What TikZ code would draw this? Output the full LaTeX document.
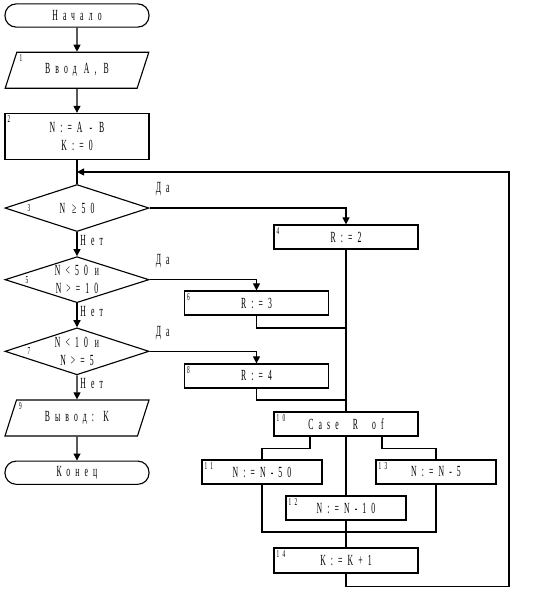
\documentclass[tikz,border=0pt]{standalone}
\usepackage{fontspec}
\setmainfont{Liberation Serif}[FakeStretch=0.5, LetterSpace=33]
\usetikzlibrary{shapes.geometric, arrows.meta, positioning, calc}

\begin{document}
\begin{tikzpicture}[
    x=0.025cm, y=-0.025cm,
    node distance=0.6cm,
    every node/.style={font=\fontsize{11}{12.5}\selectfont},
    term/.style={draw, thick, rounded corners=0.28cm, minimum width=3.6cm,
                 minimum height=0.58cm, inner sep=0pt},
    io/.style={draw, thick, trapezium, trapezium left angle=65, trapezium right angle=115,
               trapezium stretches=true, minimum width=3.6cm, minimum height=0.9cm, inner sep=0pt},
    proc/.style={draw, thick, minimum width=3.6cm, minimum height=0.6cm, inner sep=0pt, align=center},
    cond/.style={draw, thick, diamond, aspect=3, minimum width=3.6cm, minimum height=1.175cm,
                 inner sep=0pt, align=center},
    num/.style={font=\fontsize{7.5}{8}\selectfont, inner sep=2pt, anchor=north west},
    lab/.style={inner sep=2pt},
    yes/.style={lab, pos=0, anchor=south west, xshift=2pt, yshift=6pt},
    no/.style={lab, pos=0, anchor=north west},
    arrow/.style={-{Triangle[width=5pt,length=5pt]}, thick},
    conn/.style={thick}
]
\useasboundingbox (0,0) rectangle (539,601);

% main column
\node[term] (start) at (77,15.5) {Начало};
\node[io, below=of start] (in1) {Ввод A, B};
\node[proc, below=of in1, minimum height=1.15cm] (b2) {N:=A - B\\K:=0};
\node[cond, below=of b2] (d3) {N ≥50};
\node[cond, below=of d3, minimum height=1.15cm] (d5) {N<50 и\\N>=10};
\node[cond, below=of d5] (d7) {N<10 и\\N>=5};
\node[io, below=of d7] (out9) {Вывод: K};
\node[term, below=of out9] (end) {Конец};

% right part
\node[proc] (b4) at (346,237) {R:=2};
\node[proc] (b6) at (256.5,303) {R:=3};
\node[proc] (b8) at (256.5,376) {R:=4};
\node[proc] (b10) at (346,424) {Case \ R \ of};
\node[proc, minimum width=3cm] (b11) at (262,472) {N:=N-50};
\node[proc, minimum width=3cm] (b13) at (436,472) {N:=N-5};
\node[proc, minimum width=3cm] (b12) at (346,508) {N:=N-10};
\node[proc, minimum height=0.625cm] (b14) at (346,560.5) {K:=K+1};

% block numbers
\node[num] (n1) at (in1.top left corner) {1};
\node[num] (n2) at (b2.north west) {2};
\node[num, anchor=west] (n3) at ([xshift=0.5cm]d3.west) {3};
\node[num] (n4) at (b4.north west) {4};
\node[num, anchor=west] (n5) at ([xshift=0.45cm]d5.west) {5};
\node[num] (n6) at (b6.north west) {6};
\node[num, anchor=west] (n7) at ([xshift=0.5cm]d7.west) {7};
\node[num] (n8) at (b8.north west) {8};
\node[num] (n9) at (out9.top left corner) {9};
\node[num] (n10) at (b10.north west) {10};
\node[num] (n11) at (b11.north west) {11};
\node[num] (n12) at (b12.north west) {12};
\node[num] (n13) at (b13.north west) {13};
\node[num] (n14) at (b14.north west) {14};

\coordinate (j2) at ($(b2.south)+(0,12)$);
\coordinate (loop) at ($(j2)+(432,0)$);
\coordinate (j6) at (346,328);
\coordinate (j8) at (346,400);
\coordinate (j14) at (346,532);

\draw[arrow] (start) -- (in1);
\draw[arrow] (in1) -- (b2);
\draw[conn] (b2) -- (d3);
\draw[arrow] (d3) -- node[no]{Нет} (d5);
\draw[arrow] (d5) -- node[no]{Нет} (d7);
\draw[arrow] (d7) -- node[no]{Нет} (out9);
\draw[arrow] (out9) -- (end);

\draw[arrow] (d3.east) -| node[yes]{Да} (b4.north);
\draw[arrow] (d5.east) -| node[yes]{Да} (b6.north);
\draw[arrow] (d7.east) -| node[yes]{Да} (b8.north);

\draw[conn] (b4) -- (b10);
\draw[conn] (b6) |- (j6);
\draw[conn] (b8) |- (j8);

\draw[conn] ([xshift=-0.9cm]b10.south) -- ++(0,12) -| (b11.north);
\draw[conn] ([xshift=0.9cm]b10.south) -- ++(0,12) -| (b13.north);
\draw[conn] (b10) -- (b12);
\draw[conn] (b11) |- (j14) -| (b13);
\draw[conn] (b12) -- (b14);

\draw[arrow] (b14.south) -- ++(0,13) -| (loop) -- (j2);
\end{tikzpicture}
\end{document}
